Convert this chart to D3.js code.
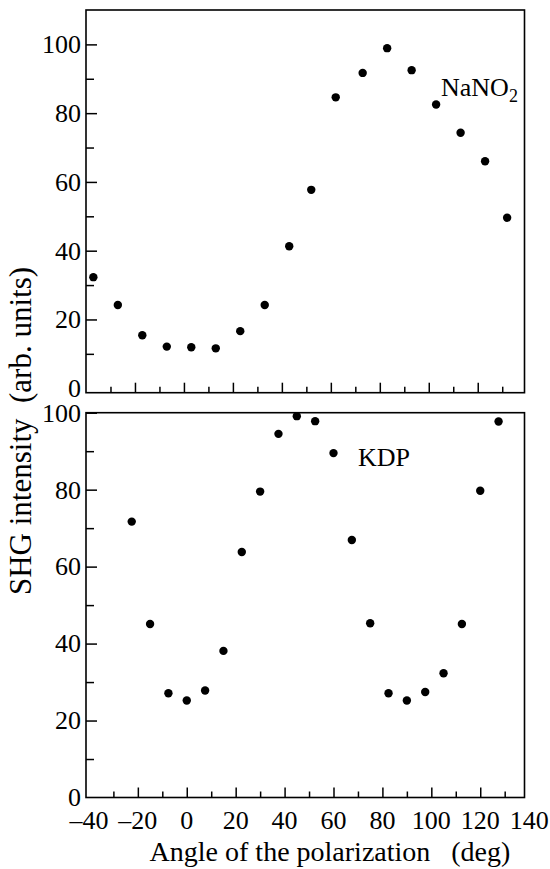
<!DOCTYPE html>
<html>
<head>
<meta charset="utf-8">
<script src="https://cdn.jsdelivr.net/npm/d3@7/dist/d3.min.js"></script>
</head>
<body style="margin:0; font-family: 'Liberation Serif';">
<div id="chart"></div>
<script>
// ---- data ----
const nanoAngles = [-37, -27, -17, -7, 3, 13, 23, 33, 43, 52, 62, 73, 83, 93, 103, 113, 123, 132];
const nanoValues = [32.3, 24.2, 15.4, 12.1, 11.9, 11.6, 16.6, 24.2, 41.3, 57.7, 84.6, 91.7, 98.9, 92.5, 82.5, 74.3, 66.0, 49.6];
const kdpAngles = [-22.5, -15, -7.5, 0, 7.5, 15, 22.5, 30, 37.5, 45, 52.5, 60, 67.5, 75, 82.5, 90, 97.5, 105, 112.5, 120, 127.5];
const kdpValues = [71.7, 45.1, 27.1, 25.2, 27.8, 38.1, 63.8, 79.5, 94.5, 99.1, 97.8, 89.5, 66.9, 45.3, 27.1, 25.2, 27.4, 32.3, 45.1, 79.7, 97.7];
const xTickLabels = [-40, -20, 0, 20, 40, 60, 80, 100, 120, 140];
const xMajorTicks = [-20, 0, 20, 40, 60, 80, 100, 120];
const xMinorTicks = [-30, -10, 10, 30, 50, 70, 90, 110, 130];
const yTickLabels = [0, 20, 40, 60, 80, 100];
const yMinorTicks = [10, 30, 50, 70, 90];
const xTitle = "Angle of the polarization\u00a0\u00a0\u00a0(deg)";
const yTitle = "SHG intensity\u00a0\u00a0(arb. units)";

const W = 550, H = 869;
const svg = d3.select("#chart").append("svg").attr("width", W).attr("height", H)
  .style("font-family", '"Liberation Serif"');

const left = 86, right = 524.5;

function serif(sel, size) {
  return sel.attr("class", (sel.attr("class") || "") + " sf")
    .style("font-family", '"Liberation Serif"').attr("font-size", size).attr("fill", "#000");
}

const panels = [
  { angles: nanoAngles, values: nanoValues,
    top: 10, bottom: 392.7, xDomain: [-40, 139.1], yDomain: [-1.3, 110], labelsX: false },
  { angles: kdpAngles, values: kdpValues,
    top: 412.7, bottom: 797.5, xDomain: [-41.2, 138.1], yDomain: [0, 100], labelsX: true }
];

panels.forEach((p, i) => {
  const x = d3.scaleLinear().domain(p.xDomain).range([left, right]);
  const y = d3.scaleLinear().domain(p.yDomain).range([p.bottom, p.top]);
  const g = svg.append("g");

  g.append("rect")
    .attr("x", left).attr("y", p.top)
    .attr("width", right - left).attr("height", p.bottom - p.top)
    .attr("fill", "none").attr("stroke", "#000").attr("stroke-width", 1.6);

  const xMaj = d3.axisBottom(x).tickValues(xMajorTicks).tickSize(-10).tickFormat("");
  const xMin = d3.axisBottom(x).tickValues(xMinorTicks).tickSize(-6).tickFormat("");
  [xMaj, xMin].forEach(ax => {
    const a = g.append("g").attr("transform", `translate(0,${p.bottom})`).call(ax);
    a.attr("font-family", null).attr("font-size", null);
    a.select(".domain").remove();
    a.selectAll("text").remove();
    a.selectAll("line").attr("stroke", "#000").attr("stroke-width", 1.5);
  });

  const yMaj = d3.axisLeft(y).tickValues(yTickLabels.filter(v => v > 0)).tickSize(-11).tickFormat("");
  const yMin = d3.axisLeft(y).tickValues(yMinorTicks).tickSize(-8).tickFormat("");
  [yMaj, yMin].forEach(ax => {
    const a = g.append("g").attr("transform", `translate(${left},0)`).call(ax);
    a.attr("font-family", null).attr("font-size", null);
    a.select(".domain").remove();
    a.selectAll("text").remove();
    a.selectAll("line").attr("stroke", "#000").attr("stroke-width", 1.5);
  });

  g.selectAll("text.yl").data(yTickLabels).enter().append("text").attr("class", "yl")
    .attr("x", left - 5).attr("y", d => y(d)).attr("dy", "0.34em")
    .attr("text-anchor", "end").text(d => d)
    .style("font-family", '"Liberation Serif"').attr("font-size", 26).attr("fill", "#000");

  if (p.labelsX) {
    g.selectAll("text.xl").data(xTickLabels).enter().append("text").attr("class", "xl")
      .attr("x", d => x(d)).attr("y", p.bottom + 31).attr("text-anchor", "middle")
      .text(d => d < 0 ? "\u2013" + Math.abs(d) : String(d))
      .style("font-family", '"Liberation Serif"').attr("font-size", 26).attr("fill", "#000");
  }

  g.selectAll("circle.pt").data(p.angles.map((a, k) => [a, p.values[k]]))
    .enter().append("circle").attr("class", "pt")
    .attr("cx", d => x(d[0])).attr("cy", d => y(d[1])).attr("r", 4.2).attr("fill", "#000");

  if (i === 0) {
    const t = g.append("text").attr("x", 441).attr("y", 96)
      .style("font-family", '"Liberation Serif"').attr("font-size", 26).attr("fill", "#000");
    t.append("tspan").text("NaNO");
    t.append("tspan").attr("font-size", 18).attr("dy", 6).text("2");
  } else {
    g.append("text").attr("x", 358).attr("y", 466)
      .style("font-family", '"Liberation Serif"').attr("font-size", 26).attr("fill", "#000").text("KDP");
  }
});

svg.append("text").attr("x", 330).attr("y", 861).attr("text-anchor", "middle")
  .style("font-family", '"Liberation Serif"').attr("font-size", 28).attr("fill", "#000").text(xTitle);
svg.append("text").attr("transform", "translate(31,431) rotate(-90)").attr("text-anchor", "middle")
  .style("font-family", '"Liberation Serif"').attr("font-size", 31).attr("fill", "#000").text(yTitle);

// make sure the serif face is in use once it is ready
if (document.fonts && document.fonts.load) {
  document.fonts.load('26px "Liberation Serif"').then(() => {
    svg.selectAll("text").style("font-family", '"Liberation Serif"');
  });
}
</script>
</body>
</html>
